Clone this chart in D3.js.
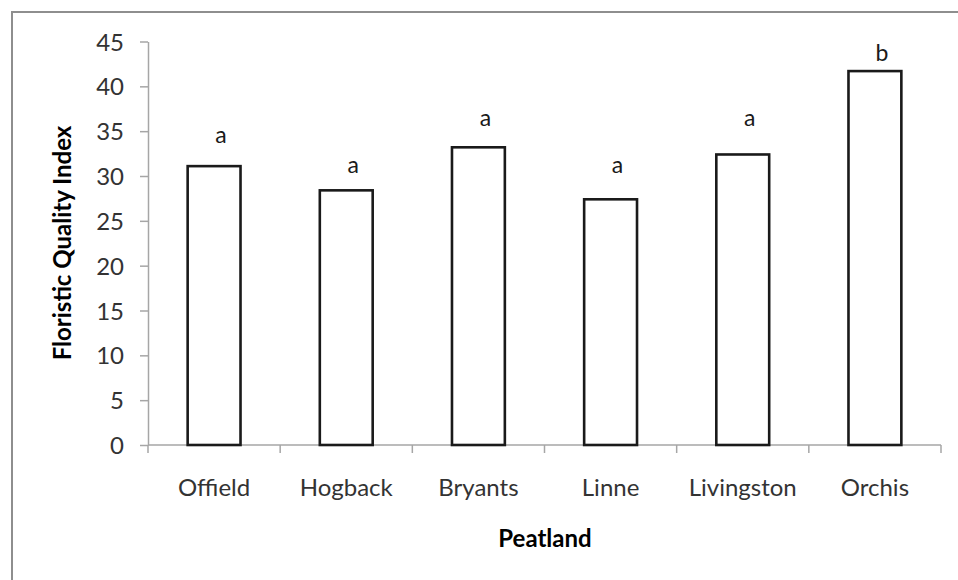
<!DOCTYPE html>
<html>
<head>
<meta charset="utf-8">
<script src="https://cdn.jsdelivr.net/npm/d3@7"></script>
<style>
  html, body { margin: 0; padding: 0; background: #fff; }
  svg { display: block; }
  text { font-family: Lato, "Open Sans", sans-serif; }
</style>
</head>
<body>
<svg id="chart" width="958" height="580"></svg>
<script>
// Mean Floristic Quality Index per peatland, with significance letters
const peatlands = ["Offield", "Hogback", "Bryants", "Linne", "Livingston", "Orchis"];
const fqi = [31.1, 28.4, 33.2, 27.4, 32.4, 41.7];
const groupLetters = ["a", "a", "a", "a", "a", "b"];
// height (in index units) at which each significance letter sits
const letterLevel = [33.7, 30.3, 35.6, 30.3, 35.6, 42.8];
const yTicks = [0, 5, 10, 15, 20, 25, 30, 35, 40, 45];

const svg = d3.select("#chart");
const W = 958, H = 580;
const plot = { left: 148, right: 941, top: 41.5, bottom: 445 };

// outer chart frame
svg.append("rect")
  .attr("x", 12).attr("y", 12)
  .attr("width", W + 20).attr("height", H + 20)
  .attr("fill", "none")
  .attr("stroke", "#8e8e8e")
  .attr("stroke-width", 2);

const x = d3.scaleBand()
  .domain(peatlands)
  .range([plot.left, plot.right])
  .paddingInner(0.6)
  .paddingOuter(0.3);

const y = d3.scaleLinear()
  .domain([0, 45])
  .range([plot.bottom, plot.top]);

const axisColor = "#a6a6a6";
const labelColor = "#333333";
const fontSize = "24px";

// y axis
const yAxis = svg.append("g")
  .attr("transform", `translate(${plot.left},0)`)
  .call(d3.axisLeft(y).tickValues(yTicks).tickSize(8).tickSizeOuter(0).tickPadding(16));
yAxis.select(".domain").attr("stroke", axisColor).attr("stroke-width", 1.5);
yAxis.selectAll(".tick line").attr("stroke", axisColor).attr("stroke-width", 1.5);
yAxis.selectAll(".tick text")
  .attr("fill", labelColor)
  .style("font-size", fontSize)
  .attr("dy", "0.36em");

// x axis: ticks at category boundaries
const step = (plot.right - plot.left) / peatlands.length;
const xAxis = svg.append("g");
xAxis.append("line")
  .attr("x1", plot.left).attr("x2", plot.right)
  .attr("y1", plot.bottom).attr("y2", plot.bottom)
  .attr("stroke", axisColor).attr("stroke-width", 1.5);
xAxis.selectAll("line.tk")
  .data(d3.range(peatlands.length + 1))
  .join("line")
  .attr("class", "tk")
  .attr("x1", i => plot.left + i * step).attr("x2", i => plot.left + i * step)
  .attr("y1", plot.bottom).attr("y2", plot.bottom + 8)
  .attr("stroke", axisColor).attr("stroke-width", 1.5);
xAxis.selectAll("text")
  .data(peatlands)
  .join("text")
  .attr("x", d => x(d) + x.bandwidth() / 2)
  .attr("y", 496)
  .attr("text-anchor", "middle")
  .attr("fill", labelColor)
  .style("font-size", fontSize)
  .text(d => d);

// bars
svg.append("g")
  .selectAll("rect")
  .data(peatlands)
  .join("rect")
  .attr("x", d => x(d))
  .attr("y", (d, i) => y(fqi[i]))
  .attr("width", x.bandwidth())
  .attr("height", (d, i) => y(0) - y(fqi[i]))
  .attr("fill", "#fff")
  .attr("stroke", "#1a1a1a")
  .attr("stroke-width", 2.6);

// significance letters
svg.append("g")
  .selectAll("text")
  .data(peatlands)
  .join("text")
  .attr("x", d => x(d) + x.bandwidth() / 2 + 7)
  .attr("y", (d, i) => y(letterLevel[i]))
  .attr("text-anchor", "middle")
  .attr("fill", "#1a1a1a")
  .style("font-size", "23px")
  .text((d, i) => groupLetters[i]);

// axis titles
svg.append("text")
  .attr("transform", `translate(71,243) rotate(-90)`)
  .attr("text-anchor", "middle")
  .style("font-size", fontSize)
  .style("font-weight", "bold")
  .attr("fill", "#000")
  .text("Floristic Quality Index");

svg.append("text")
  .attr("x", 545).attr("y", 547)
  .attr("text-anchor", "middle")
  .style("font-size", fontSize)
  .style("font-weight", "bold")
  .attr("fill", "#000")
  .text("Peatland");
</script>
</body>
</html>
